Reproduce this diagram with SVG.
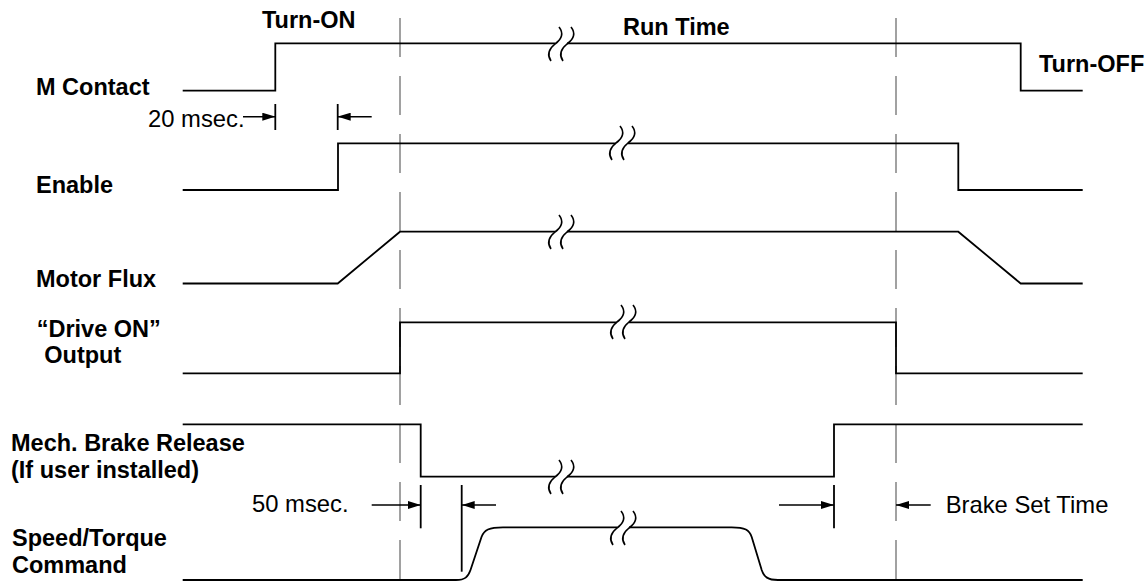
<svg xmlns="http://www.w3.org/2000/svg" width="1146" height="582" viewBox="0 0 1146 582">
<style>
.sig{fill:none;stroke:#000;stroke-width:1.8;stroke-linejoin:miter}
.brk{fill:none;stroke:#000;stroke-width:1.6}
.dash{stroke:#7a7a7a;stroke-width:1.4;stroke-dasharray:39 19}
.dim{stroke:#000;stroke-width:1.4;fill:none}
.tick{stroke:#000;stroke-width:1.8}
.lb{font-family:"Liberation Sans",Arial,Helvetica,sans-serif;font-weight:bold;font-size:23.5px;fill:#000}
.rg{font-family:"Liberation Sans",Arial,Helvetica,sans-serif;font-size:23.8px;fill:#000}
</style>
<defs>
<marker id="ah" viewBox="0 0 13 8" refX="13" refY="4" markerWidth="13" markerHeight="8" markerUnits="userSpaceOnUse" orient="auto">
<path d="M0,0 L13,4 L0,8 z" fill="#000"/>
</marker>
<path id="br" d="M-2,-17 Q5,-8 -6,0 Q-16,8 -10,17 M10,-17 Q17,-8 6,0 Q-4,8 2,17" class="brk"/>
</defs>
<rect width="1146" height="582" fill="#fff"/>

<g id="guides">
<line x1="400" y1="18" x2="400" y2="582" class="dash"/>
<line x1="896" y1="18" x2="896" y2="582" class="dash"/>
</g>

<g id="headers">
<text x="262" y="28" class="lb">Turn-ON</text>
<text x="623" y="35" class="lb">Run Time</text>
<text x="1039" y="72" class="lb">Turn-OFF</text>
</g>

<g id="m-contact">
<text x="36" y="95" class="lb">M Contact</text>
<path class="sig" d="M182.7,90.7 H275.3 V43.3 H555 M567,43.3 H1020.7 V90.7 H1082.7"/>
<use href="#br" x="561" y="44"/>
</g>

<g id="enable">
<text x="36" y="192.7" class="lb">Enable</text>
<path class="sig" d="M182.7,190 H338 V143.3 H616 M628,143.3 H958.3 V190 H1082.7"/>
<use href="#br" x="622" y="143"/>
</g>

<g id="motor-flux">
<text x="36" y="286.7" class="lb">Motor Flux</text>
<path class="sig" d="M182.7,283.5 H337.7 L400,231.7 H555 M567,231.7 H958.3 L1020.7,283.5 H1082.7"/>
<use href="#br" x="561" y="232"/>
</g>

<g id="drive-on">
<text x="36.7" y="337.3" class="lb">“Drive ON”</text>
<text x="44.3" y="363.3" class="lb">Output</text>
<path class="sig" d="M182.7,373.3 H400 V322.3 H617 M629,322.3 H896 V373.3 H1082.7"/>
<use href="#br" x="623" y="322"/>
</g>

<g id="mech-brake">
<text x="11" y="451" class="lb">Mech. Brake Release</text>
<text x="11" y="478" class="lb">(If user installed)</text>
<path class="sig" d="M182.7,424.3 H420.7 V476.7 H555 M567,476.7 H834 V424.3 H1082.7"/>
<use href="#br" x="561" y="477"/>
</g>

<g id="speed-torque">
<text x="12" y="546" class="lb">Speed/Torque</text>
<text x="12" y="572.7" class="lb">Command</text>
<path class="sig" d="M182.7,580 H456 C465,580 468,577 470.5,570 L481.5,537 C484,530 489,527.3 503,527.3 H617 M629,527.3 H731.7 C745,527.3 749.5,530 751.7,537 L761.7,570 C764,577 768,580 778,580 H1082.7"/>
<use href="#br" x="623" y="528"/>
</g>

<g id="connectors">
<text x="148" y="127" class="rg">20 msec.</text>
<line x1="275.3" y1="104" x2="275.3" y2="130" class="tick"/>
<line x1="337.7" y1="104" x2="337.7" y2="130" class="tick"/>
<line x1="243" y1="116.7" x2="275.3" y2="116.7" class="dim" marker-end="url(#ah)"/>
<line x1="371.7" y1="116.7" x2="337.7" y2="116.7" class="dim" marker-end="url(#ah)"/>

<text x="252" y="511.7" class="rg">50 msec.</text>
<line x1="420.7" y1="485" x2="420.7" y2="528.3" class="tick"/>
<line x1="461.7" y1="485" x2="461.7" y2="571.7" class="tick"/>
<line x1="371.7" y1="505" x2="420.7" y2="505" class="dim" marker-end="url(#ah)"/>
<line x1="496" y1="505" x2="461.7" y2="505" class="dim" marker-end="url(#ah)"/>

<text x="945.7" y="513.3" class="rg">Brake Set Time</text>
<line x1="834" y1="485" x2="834" y2="528.3" class="tick"/>
<line x1="779" y1="505" x2="834" y2="505" class="dim" marker-end="url(#ah)"/>
<line x1="930.7" y1="505" x2="896" y2="505" class="dim" marker-end="url(#ah)"/>
</g>
</svg>
